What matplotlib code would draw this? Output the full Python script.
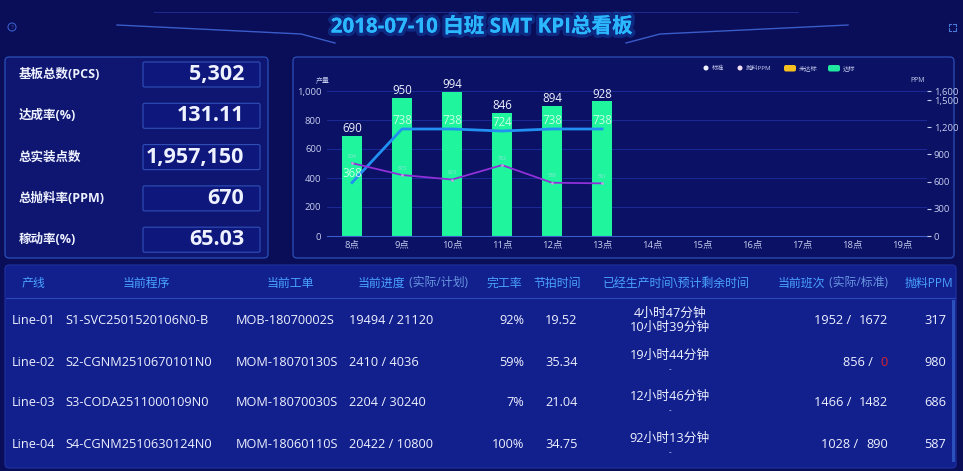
import numpy as np
import matplotlib
matplotlib.use('Agg')
import matplotlib.pyplot as plt
import matplotlib.patches as patches
import matplotlib.patheffects as pe
from matplotlib.ticker import FuncFormatter

plt.rcParams['font.family'] = ['Open Sans', 'Noto Sans CJK SC', 'DejaVu Sans']

W, H = 963, 471

# ---- data ----
title = '2018-07-10 白班 SMT KPI总看板'

kpi_labels = ['基板总数(PCS)', '达成率(%)', '总实装点数', '总抛料率(PPM)', '稼动率(%)']
kpi_values = ['5,302', '131.11', '1,957,150', '670', '65.03']

hours = ['8点', '9点', '10点', '11点', '12点', '13点',
         '14点', '15点', '16点', '17点', '18点', '19点']
output = [690, 950, 994, 846, 894, 928]      # 达标 bars
standard = [368, 738, 738, 724, 738, 738]    # 标准 line
ppm = [804, 673, 623, 782, 588, 581]         # 抛料PPM line (right axis)
left_ticks = [0, 200, 400, 600, 800, 1000]
right_ticks = [0, 300, 600, 900, 1200, 1500, 1600]
legend_labels = ['标准', '抛料PPM', '未达标', '达标']

header_main = ['产线', '当前程序', '当前工单', '当前进度', '完工率', '节拍时间',
               '已经生产时间\\预计剩余时间', '当前班次', '抛料PPM']
header_sub = ['', '', '', ' (实际/计划)', '', '', '', ' (实际/标准)', '']
lines = ['Line-01', 'Line-02', 'Line-03', 'Line-04']
programs = ['S1-SVC2501520106N0-B', 'S2-CGNM2510670101N0',
            'S3-CODA2511000109N0', 'S4-CGNM2510630124N0']
orders = ['MOB-18070002S', 'MOM-18070130S', 'MOM-18070030S', 'MOM-18060110S']
progress = ['19494 / 21120', '2410 / 4036', '2204 / 30240', '20422 / 10800']
completion = ['92%', '59%', '7%', '100%']
takt = ['19.52', '35.34', '21.04', '34.75']
elapsed = ['4小时47分钟', '19小时44分钟', '12小时46分钟', '92小时13分钟']
remaining = ['10小时39分钟', '-', '-', '-']
shift_actual = [1952, 856, 1466, 1028]
shift_std = [1672, 0, 1482, 890]
line_ppm = [317, 980, 686, 587]

# ---- colours ----
BG = '#0a0d58'
PANEL = '#0b1164'
BORDER = '#2b4fb8'
CYAN = '#2bb8ff'
HEAD = '#4aa3ff'
TXT = '#eef1ff'
TICK = '#c6cdee'
GREEN = '#1ef59c'
BLUE = '#2190f2'
PURPLE = '#9030d8'

fig = plt.figure(figsize=(W / 100, H / 100), dpi=100, facecolor=BG)
bg = fig.add_axes([0, 0, 1, 1])
bg.set_xlim(0, W)
bg.set_ylim(H, 0)
bg.axis('off')


def panel(x, y, w, h, fc, ec=BORDER, lw=0.9, r=4, z=1):
    p = patches.FancyBboxPatch((x, y), w, h, boxstyle=f'round,pad=0,rounding_size={r}',
                               fc=fc, ec=ec, lw=lw, zorder=z)
    bg.add_patch(p)


# ---- title and decoration ----
bg.plot([154, 798], [12, 12], color='#1c2c8a', lw=0.8)
bg.plot([117, 301, 335], [25, 34, 43], color='#3a5cc8', lw=1.0)
bg.plot([626, 660, 848], [43, 34, 25], color='#3a5cc8', lw=1.0)
bg.text(W / 2, 27, title, color=CYAN, fontsize=14.8, fontweight='bold',
        ha='center', va='center',
        path_effects=[pe.withStroke(linewidth=5, foreground='#1560d0', alpha=0.35), pe.Normal()])
bg.add_patch(patches.Circle((12, 27), 4, fc='none', ec='#3a5cc8', lw=0.8))
bg.text(12, 27.5, '?', color='#3a5cc8', fontsize=4.5, ha='center', va='center')
# full-screen icon: four small corner marks
for sx in (-1, 1):
    for sy in (-1, 1):
        cx, cy = 952 + sx * 3.5, 27 + sy * 3.5
        bg.plot([cx, cx, cx - sx * 2.5], [cy - sy * 2.5, cy, cy], color='#4a7ad8', lw=0.8)

# ---- KPI panel ----
panel(5, 57, 263, 201, '#0e1672')
for i, (lab, val) in enumerate(zip(kpi_labels, kpi_values)):
    top = 62 + i * 41.3
    panel(143, top, 117, 25, '#0d177c', ec='#3050b8', lw=0.8, r=1.5, z=2)
    bg.text(19, top + 12.5, lab, color=TXT, fontsize=9, fontweight='bold',
            ha='left', va='center', zorder=3)
    bg.text(244, top + 12.5, val, color=TXT, fontsize=15.5, fontweight='bold',
            ha='right', va='center', zorder=3)

# ---- chart panel ----
panel(293, 57, 661, 201, PANEL)

L, R, T, B = 327, 927, 91, 236
ax = fig.add_axes([L / W, 1 - B / H, (R - L) / W, (B - T) / H])
ax.set_facecolor('none')
x = np.arange(len(hours))
xo = x[:len(output)]
ax.bar(xo, output, width=0.4, color=GREEN, zorder=2)
for xi, v in zip(xo, output):
    ax.text(xi, v + 6, str(v), color=TXT, fontsize=8.3, ha='center', va='bottom', zorder=5)
ax.plot(xo, standard, color=BLUE, lw=2, zorder=4)
for xi, v in zip(xo, standard):
    ax.text(xi, v + 62, str(v), color='white', alpha=0.75, fontsize=8.3,
            ha='center', va='center', zorder=5)
ax.set_xlim(-0.5, len(hours) - 0.5)
ax.set_ylim(0, 1000)
ax.set_xticks(x)
ax.set_xticklabels(hours)
ax.set_yticks(left_ticks)
ax.yaxis.set_major_formatter(FuncFormatter(lambda v, p: f'{int(v):,}'))
ax.tick_params(axis='both', colors=TICK, labelsize=6.8, length=0, pad=4)
ax.tick_params(axis='x', pad=3)
ax.grid(axis='y', color='#1b2a98', lw=0.7, zorder=0)
for s in ['top', 'left', 'right']:
    ax.spines[s].set_visible(False)
ax.spines['bottom'].set_color('#3d5ccc')

ax2 = ax.twinx()
ax2.plot(xo, ppm, color=PURPLE, lw=1.3, marker='o', ms=2, mfc='#c0a0e8', mec='none', zorder=4)
for xi, v in zip(xo, ppm):
    ax2.text(xi, v + 75, str(v), color='#d8dcff', alpha=0.6, fontsize=3.8,
             ha='center', va='center', zorder=5)
ax2.set_ylim(0, 1600)
ax2.set_yticks(right_ticks)
ax2.yaxis.set_major_formatter(FuncFormatter(lambda v, p: f'{int(v):,}'))
ax2.tick_params(axis='y', colors=TICK, labelsize=6.8, length=3, pad=2)
for s in ['top', 'left', 'right', 'bottom']:
    ax2.spines[s].set_visible(False)

bg.text(323, 81, '产量', color=TICK, fontsize=5, ha='center', va='center')
bg.text(918, 80, 'PPM', color=TICK, fontsize=5, ha='center', va='center')

# legend
bg.add_patch(patches.Circle((706, 68), 2.5, fc='#eef2ff', ec='none', zorder=3))
bg.text(712, 68, legend_labels[0], color=TICK, fontsize=4.5, va='center')
bg.add_patch(patches.Circle((740, 68), 2.5, fc='#f2e0f0', ec='none', zorder=3))
bg.text(746, 68, legend_labels[1], color=TICK, fontsize=4.5, va='center')
bg.add_patch(patches.FancyBboxPatch((784, 65), 12, 6.5, boxstyle='round,pad=0,rounding_size=2',
                                    fc='#f5c020', ec='none', zorder=3))
bg.text(799, 68, legend_labels[2], color=TICK, fontsize=4.5, va='center')
bg.add_patch(patches.FancyBboxPatch((828, 65), 12, 6.5, boxstyle='round,pad=0,rounding_size=2',
                                    fc='#20e8a0', ec='none', zorder=3))
bg.text(843, 68, legend_labels[3], color=TICK, fontsize=4.5, va='center')

# ---- table ----
panel(5, 265, 951, 203, '#12208e', ec='#1d2f9c')
bg.plot([6, 955], [298, 298], color='#2848b8', lw=0.8, zorder=2)
bg.add_patch(patches.Rectangle((952, 300), 3, 162, fc='#3565d0', alpha=0.7, zorder=3))

head_x = [22, 123, 267, 358, 486, 533, 603, 778, 905]
hy = 283
fig.canvas.draw()
rend = fig.canvas.get_renderer()
for hx, main, sub in zip(head_x, header_main, header_sub):
    t = bg.text(hx, hy, main, color=HEAD, fontsize=8.6, ha='left', va='center', zorder=3)
    if sub:
        bb = t.get_window_extent(rend)
        bg.text(hx + bb.width, hy, sub, color='#6a95e0', fontsize=8.6,
                ha='left', va='center', zorder=3)

row_y = [320, 362, 403, 445]
for i, ry in enumerate(row_y):
    kw = dict(color=TXT, fontsize=9.2, va='center', zorder=3)
    bg.text(12, ry, lines[i], ha='left', **kw)
    bg.text(65, ry, programs[i], ha='left', **kw)
    bg.text(236, ry, orders[i], ha='left', **kw)
    bg.text(349, ry, progress[i], ha='left', **kw)
    bg.text(524, ry, completion[i], ha='right', **kw)
    bg.text(545, ry, takt[i], ha='left', **kw)
    bg.text(670, ry - 7, elapsed[i], ha='center', **kw)
    if remaining[i] == '-':
        bg.text(670, ry + 8, '-', ha='center', color=TXT, fontsize=6, va='center', zorder=3)
    else:
        bg.text(670, ry + 7, remaining[i], ha='center', **kw)
    std_col = '#e0202a' if shift_std[i] == 0 else TXT
    t = bg.text(888, ry, str(shift_std[i]), ha='right', color=std_col, fontsize=9.2,
                va='center', zorder=3)
    bb = t.get_window_extent(rend)
    bg.text(888 - bb.width - 1, ry, f'{shift_actual[i]} /  ', ha='right', **kw)
    bg.text(946, ry, str(line_ppm[i]), ha='right', **kw)

fig.savefig('out.png', dpi=100, facecolor=BG)
